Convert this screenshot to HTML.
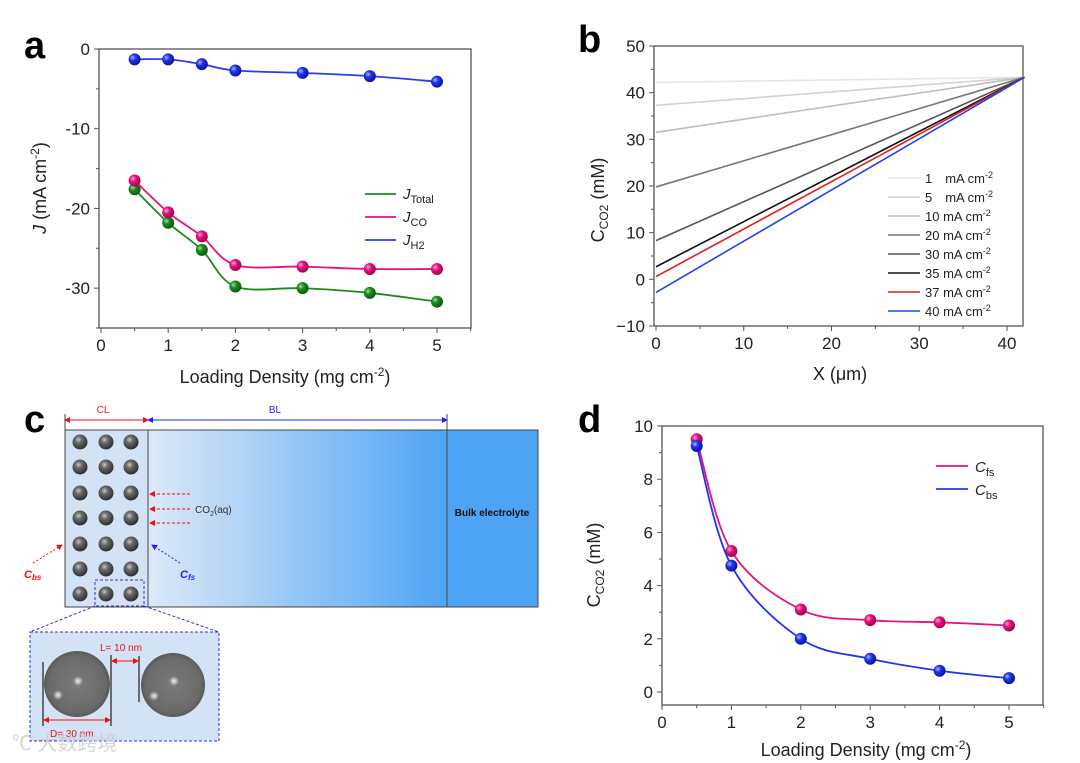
<!DOCTYPE html>
<html><head><meta charset="utf-8"><style>
body{margin:0;background:#fff;width:1080px;height:763px;overflow:hidden;font-family:"Liberation Sans","Noto Sans CJK SC",sans-serif}
svg{position:absolute;left:0;top:0}
text{font-family:"Liberation Sans","Noto Sans CJK SC",sans-serif}
</style></head><body>
<svg id="fig" width="1080" height="763" viewBox="0 0 1080 763">
<defs>
<radialGradient id="gG" cx="35%" cy="35%" r="65%"><stop offset="0" stop-color="#9fe09f"/><stop offset="0.4" stop-color="#1e8a1e"/><stop offset="1" stop-color="#0d5a0d"/></radialGradient>
<radialGradient id="gP" cx="35%" cy="35%" r="65%"><stop offset="0" stop-color="#ffb0d8"/><stop offset="0.4" stop-color="#e8117e"/><stop offset="1" stop-color="#a0054f"/></radialGradient>
<radialGradient id="gB" cx="35%" cy="35%" r="65%"><stop offset="0" stop-color="#b0b8ff"/><stop offset="0.4" stop-color="#2233ee"/><stop offset="1" stop-color="#0a14a0"/></radialGradient>
<radialGradient id="gS" cx="40%" cy="35%" r="65%"><stop offset="0" stop-color="#c8c8c8"/><stop offset="0.35" stop-color="#6a6a6a"/><stop offset="1" stop-color="#2e2e2e"/></radialGradient>
<radialGradient id="gL" cx="50%" cy="50%" r="50%"><stop offset="0" stop-color="#7a7a7a"/><stop offset="0.85" stop-color="#6a6a6a"/><stop offset="1" stop-color="#5a5a5a"/></radialGradient>
<radialGradient id="hl" cx="50%" cy="50%" r="50%"><stop offset="0" stop-color="#fff" stop-opacity="0.9"/><stop offset="1" stop-color="#fff" stop-opacity="0"/></radialGradient>
<linearGradient id="blg" x1="0" x2="1" y1="0" y2="0"><stop offset="0" stop-color="#dde9f7"/><stop offset="1" stop-color="#4ea3f5"/></linearGradient>
<marker id="arR" markerWidth="6" markerHeight="6" refX="5" refY="3" orient="auto"><path d="M0,0 L6,3 L0,6z" fill="#e11"/></marker>
<marker id="arB" markerWidth="6" markerHeight="6" refX="5" refY="3" orient="auto"><path d="M0,0 L6,3 L0,6z" fill="#22e"/></marker>
<marker id="arRs" markerWidth="6" markerHeight="6" refX="1" refY="3" orient="auto"><path d="M6,0 L0,3 L6,6z" fill="#e11"/></marker>
<marker id="arBs" markerWidth="6" markerHeight="6" refX="1" refY="3" orient="auto"><path d="M6,0 L0,3 L6,6z" fill="#22e"/></marker>
</defs>

<!-- panel letters -->
<text x="24" y="58" font-size="38" font-weight="bold">a</text>
<text x="578" y="52" font-size="38" font-weight="bold">b</text>
<text x="24" y="432" font-size="38" font-weight="bold">c</text>
<text x="578" y="432" font-size="38" font-weight="bold">d</text>

<!-- panel c schematic -->
<g>
  <rect x="65" y="430" width="83" height="177" fill="#d3e2f4" stroke="#444"/>
  <rect x="148" y="430" width="299" height="177" fill="url(#blg)" stroke="#444"/>
  <rect x="447" y="430" width="91" height="177" fill="#4ea3f5" stroke="#444"/>
  <text x="492" y="516" font-size="10" font-weight="bold" text-anchor="middle" fill="#111">Bulk electrolyte</text>
  <line x1="65" y1="420" x2="148" y2="420" stroke="#e11" marker-end="url(#arR)" marker-start="url(#arRs)"/>
  <line x1="148" y1="420" x2="447" y2="420" stroke="#22e" marker-end="url(#arB)" marker-start="url(#arBs)"/>
  <line x1="65" y1="414" x2="65" y2="430" stroke="#444"/>
  <line x1="447" y1="414" x2="447" y2="430" stroke="#444"/>
  <text x="103" y="413" font-size="10" fill="#e11" text-anchor="middle">CL</text>
  <text x="275" y="413" font-size="10" fill="#22e" text-anchor="middle">BL</text>
  <g id="spheres"></g>
  <line x1="190" y1="494" x2="150" y2="494" stroke="#e11" stroke-dasharray="3,2" marker-end="url(#arR)"/>
  <line x1="190" y1="509" x2="150" y2="509" stroke="#e11" stroke-dasharray="3,2" marker-end="url(#arR)"/>
  <line x1="190" y1="523" x2="150" y2="523" stroke="#e11" stroke-dasharray="3,2" marker-end="url(#arR)"/>
  <text x="195" y="513" font-size="10" fill="#333">CO<tspan font-size="7" dy="3">2</tspan><tspan dy="-3">(aq)</tspan></text>
  <line x1="33" y1="563" x2="62" y2="545" stroke="#e11" stroke-dasharray="2,2" marker-end="url(#arR)"/>
  <text x="24" y="578" font-size="11" font-style="italic" font-weight="bold" fill="#e11">C<tspan font-size="8" dy="2">bs</tspan></text>
  <line x1="180" y1="563" x2="152" y2="545" stroke="#22e" stroke-dasharray="2,2" marker-end="url(#arB)"/>
  <text x="180" y="578" font-size="11" font-style="italic" font-weight="bold" fill="#22e">C<tspan font-size="8" dy="2">fs</tspan></text>
  <rect x="95" y="580" width="49" height="26" fill="none" stroke="#33c" stroke-dasharray="3,2"/>
  <line x1="95" y1="606" x2="30" y2="632" stroke="#33c" stroke-dasharray="3,2"/>
  <line x1="144" y1="606" x2="219" y2="632" stroke="#33c" stroke-dasharray="3,2"/>
  <rect x="30" y="632" width="189" height="109" fill="#d3e2f4" stroke="#33c" stroke-dasharray="3,2"/>
  <circle cx="77" cy="684" r="33" fill="url(#gL)"/>
  <circle cx="78" cy="681" r="5" fill="url(#hl)"/><circle cx="58" cy="695" r="5" fill="url(#hl)"/>
  <circle cx="173" cy="685" r="32" fill="url(#gL)"/>
  <circle cx="174" cy="681" r="5" fill="url(#hl)"/><circle cx="154" cy="696" r="5" fill="url(#hl)"/>
  <line x1="43" y1="662" x2="43" y2="726" stroke="#444" stroke-width="1.5"/>
  <line x1="111" y1="655" x2="111" y2="726" stroke="#444" stroke-width="1.5"/>
  <line x1="139" y1="656" x2="139" y2="702" stroke="#444" stroke-width="1.5"/>
  <line x1="112" y1="661" x2="138" y2="661" stroke="#e11" marker-end="url(#arR)" marker-start="url(#arRs)"/>
  <text x="100" y="651" font-size="10" fill="#e11">L= 10 nm</text>
  <line x1="44" y1="720" x2="110" y2="720" stroke="#e11" marker-end="url(#arR)" marker-start="url(#arRs)"/>
  <text x="50" y="737" font-size="10" fill="#e11">D= 30 nm</text>
  <text x="12" y="750" font-size="20" fill="#ccc" opacity="0.8">℃ 大数跨境</text>
</g>
<g id="pa"></g><g id="pb"></g><g id="pd"></g>
</svg>
<script>
// ---- data panel a ----
const aX=[0.5,1,1.5,2,3,4,5];
const aTotal=[-17.6,-21.8,-25.2,-29.8,-30.0,-30.6,-31.7];
const aCO=[-16.5,-20.5,-23.5,-27.1,-27.3,-27.6,-27.6];
const aH2=[-1.3,-1.3,-1.9,-2.7,-3.0,-3.4,-4.1];
const aXTicks=[0,1,2,3,4,5];
const aYTicks=[0,-10,-20,-30];
// ---- data panel b ----
const bLabels=["1","5","10","20","30","35","37","40"];
const bStart=[42.2,37.3,31.5,19.8,8.3,2.7,0.6,-2.8];
const bEnd=[43.3,43.3,43.3,43.3,43.3,43.3,43.3,43.3];
const bXEnd=42;
const bXTicks=[0,10,20,30,40];
const bYTicks=[-10,0,10,20,30,40,50];
// ---- data panel d ----
const dX=[0.5,1,2,3,4,5];
const dFs=[9.5,5.3,3.1,2.7,2.62,2.5];
const dBs=[9.25,4.75,2.0,1.25,0.8,0.52];
const dXTicks=[0,1,2,3,4,5];
const dYTicks=[0,2,4,6,8,10];

const NS="http://www.w3.org/2000/svg";
function mk(parent,tag,attrs){const e=document.createElementNS(NS,tag);for(const k in attrs)e.setAttribute(k,attrs[k]);parent.appendChild(e);return e;}
function lin(d0,d1,r0,r1){return v=>r0+(v-d0)/(d1-d0)*(r1-r0);}
function smooth(pts){let d="M"+pts[0][0]+","+pts[0][1];for(let i=0;i<pts.length-1;i++){const p0=pts[Math.max(0,i-1)],p1=pts[i],p2=pts[i+1],p3=pts[Math.min(pts.length-1,i+2)];const c1=[p1[0]+(p2[0]-p0[0])/6,p1[1]+(p2[1]-p0[1])/6],c2=[p2[0]-(p3[0]-p1[0])/6,p2[1]-(p3[1]-p1[1])/6];d+=" C"+c1+" "+c2+" "+p2;}return d;}
function frame(g,L,T,R,B,xs,ys,xT,yT,xMinor,yMinor){
  const f=mk(g,'rect',{x:L,y:T,width:R-L,height:B-T,fill:'none',stroke:'#555','stroke-width':1.3});
  
  
  xT.forEach(v=>{const x=xs(v);mk(g,'line',{x1:x,y1:B,x2:x,y2:B+5,stroke:'#555'});
    const t=mk(g,'text',{x:x,y:B+23,'font-size':17,'text-anchor':'middle',fill:'#222'});t.textContent=v;
    
    });
  xMinor.forEach(v=>{const x=xs(v);mk(g,'line',{x1:x,y1:B,x2:x,y2:B+3,stroke:'#555'});});
  yT.forEach(v=>{const y=ys(v);mk(g,'line',{x1:L,y1:y,x2:L-5,y2:y,stroke:'#555'});
    const t=mk(g,'text',{x:L-9,y:y+6,'font-size':17,'text-anchor':'end',fill:'#222'});t.textContent=(v<0?'\u2212':'')+Math.abs(v);
    if(g.id==='pa')t.textContent=v;
    
    });
  yMinor.forEach(v=>{const y=ys(v);mk(g,'line',{x1:L,y1:y,x2:L-3,y2:y,stroke:'#555'});});
}
function ball(g,x,y,grad,name){const c=mk(g,'circle',{cx:x,cy:y,r:6,fill:'url(#'+grad+')'});
  
  }

// panel a
(function(){const g=document.getElementById('pa');
const xs=lin(0,5,101,437),ys=lin(0,-35,49,328);
frame(g,99,49,471,328,xs,ys,aXTicks,aYTicks,[0.5,1.5,2.5,3.5,4.5,5.5],[-5,-15,-25,-35]);
const ser=[[aTotal,'#1e8a1e','gG','total'],[aCO,'#e8117e','gP','co'],[aH2,'#2a3cf0','gB','h2']];
ser.forEach(s=>{const pts=aX.map((x,i)=>[xs(x),ys(s[0][i])]);
 const p=mk(g,'path',{d:smooth(pts),fill:'none',stroke:s[1],'stroke-width':1.8});
 
 
 pts.forEach(q=>ball(g,q[0],q[1],s[2],'point-j-'+s[3]));});
const lg=[['#1e8a1e','Total'],['#e8117e','CO'],['#2a3cf0','H2']];
lg.forEach((l,i)=>{const y=194+i*23;mk(g,'line',{x1:365,y1:y,x2:396,y2:y,stroke:l[0],'stroke-width':1.8});
 const t=mk(g,'text',{x:403,y:y+5,'font-size':15,fill:'#222'});t.innerHTML='<tspan font-style="italic">J</tspan><tspan font-size="11" dy="4">'+l[1]+'</tspan>';
 
 });
const yl=mk(g,'text',{x:0,y:0,'font-size':18,'text-anchor':'middle',fill:'#222',transform:'translate(46,188) rotate(-90)'});
yl.innerHTML='<tspan font-style="italic">J</tspan> (mA cm<tspan font-size="12" dy="-7">-2</tspan><tspan dy="7">)</tspan>';


const xl=mk(g,'text',{x:285,y:383,'font-size':18,'text-anchor':'middle',fill:'#222'});
xl.innerHTML='Loading Density (mg cm<tspan font-size="12" dy="-7">-2</tspan><tspan dy="7">)</tspan>';


})();

// panel b
(function(){const g=document.getElementById('pb');
const xs=lin(0,40,656,1007),ys=lin(-10,50,326,46);
frame(g,654,46,1023,326,xs,ys,bXTicks,bYTicks,[5,15,25,35],[-5,5,15,25,35,45]);
const cols=['#e6e6e6','#d2d2d2','#bdbdbd','#777','#555','#111','#e02020','#2244ee'];
bStart.forEach((v,i)=>{const p=mk(g,'line',{x1:xs(0),y1:ys(v),x2:xs(bXEnd),y2:ys(bEnd[i]),stroke:cols[i],'stroke-width':1.6});
 
 
 const y=178+i*19;mk(g,'line',{x1:888,y1:y,x2:920,y2:y,stroke:cols[i],'stroke-width':1.6});
 const t=mk(g,'text',{x:925,y:y+5,'font-size':13,fill:'#222'});
 t.innerHTML=(bLabels[i].length<2?bLabels[i]+'\u2002\u2002':bLabels[i]+' ')+'mA cm<tspan font-size="9" dy="-5">-2</tspan>';
 
 });
const yl=mk(g,'text',{x:0,y:0,'font-size':18,'text-anchor':'middle',fill:'#222',transform:'translate(604,200) rotate(-90)'});
yl.innerHTML='C<tspan font-size="12" dy="4">CO2</tspan><tspan dy="-4"> (mM)</tspan>';


const xl=mk(g,'text',{x:840,y:380,'font-size':18,'text-anchor':'middle',fill:'#222'});xl.textContent='X (\u03bcm)';


})();

// panel d
(function(){const g=document.getElementById('pd');
const xs=lin(0,5,662,1009),ys=lin(0,10,692,426);
frame(g,662,426,1043,705,xs,ys,dXTicks,dYTicks,[0.5,1.5,2.5,3.5,4.5,5.5],[1,3,5,7,9]);
const ser=[[dFs,'#e8117e','gP','fs'],[dBs,'#2233ee','gB','bs']];
ser.forEach(s=>{const pts=dX.map((x,i)=>[xs(x),ys(s[0][i])]);
 const p=mk(g,'path',{d:smooth(pts),fill:'none',stroke:s[1],'stroke-width':1.8});
 
 
 pts.forEach(q=>ball(g,q[0],q[1],s[2],'point-c-'+s[3]));});
[['#e8117e','fs'],['#2233ee','bs']].forEach((l,i)=>{const y=466+i*23;mk(g,'line',{x1:936,y1:y,x2:968,y2:y,stroke:l[0],'stroke-width':1.8});
 const t=mk(g,'text',{x:975,y:y+6,'font-size':15,fill:'#222'});t.innerHTML='<tspan font-style="italic">C</tspan><tspan font-size="11" dy="4">'+l[1]+'</tspan>';
 
 });
const yl=mk(g,'text',{x:0,y:0,'font-size':18,'text-anchor':'middle',fill:'#222',transform:'translate(600,565) rotate(-90)'});
yl.innerHTML='C<tspan font-size="12" dy="4">CO2</tspan><tspan dy="-4"> (mM)</tspan>';


const xl=mk(g,'text',{x:866,y:756,'font-size':18,'text-anchor':'middle',fill:'#222'});
xl.innerHTML='Loading Density (mg cm<tspan font-size="12" dy="-7">-2</tspan><tspan dy="7">)</tspan>';


})();

// spheres in catalyst layer
(function(){const g=document.getElementById('spheres');
[80,106,131].forEach(x=>{[442,467,493,518,544,569,594].forEach(y=>{
 const c=mk(g,'circle',{cx:x,cy:y,r:7.5,fill:'url(#gS)'});
 
 });});})();
</script>
</body></html>
